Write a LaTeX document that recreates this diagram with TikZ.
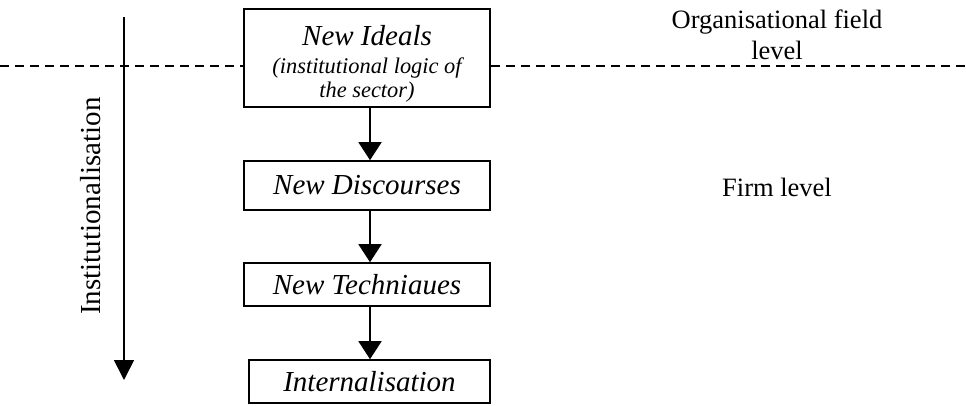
\documentclass[tikz,border=0pt]{standalone}
\usepackage{fontspec}
\setmainfont{Liberation Serif}
\usetikzlibrary{arrows.meta}
\begin{document}
\begin{tikzpicture}[x=1pt,y=-1pt,
  box/.style={draw,line width=1.6pt,inner sep=0pt,align=center,font=\fontsize{29}{33}\selectfont\itshape},
  boxtext/.style={inner sep=0pt,align=center,anchor=base},
  arr/.style={line width=1.6pt,-{Triangle[width=23pt,length=18pt]}},
  dashline/.style={line width=1.6pt,dash pattern=on 9pt off 6pt},
  lbl/.style={align=center,inner sep=0pt,anchor=base,font=\fontsize{26.5}{31}\selectfont}]
\useasboundingbox (0,0) rectangle (966,405);
% boxes
\node[box,minimum width=246pt,minimum height=98pt] (ideals) at (367,58) {};
\node[boxtext,font=\fontsize{29}{33}\selectfont\itshape] (idealsT) at (367,45) {New Ideals};
\node[boxtext,font=\fontsize{22.4}{24}\selectfont\itshape] (idealsS) at (367,97) {(institutional logic of\\the sector)};
\node[box,minimum width=246pt,minimum height=49pt] (disc) at (367,185.5) {New Discourses};
\node[box,minimum width=246pt,minimum height=43pt] (tech) at (367,284.5) {New Techniaues};
\node[box,minimum width=241pt,minimum height=43pt] (intern) at (369.5,381.5) {Internalisation};
% dashed level separator
\coordinate (dl) at (0,66);
\coordinate (dr) at (966,66);
\draw[dashline] (dl) -- (dl -| ideals.west);
\draw[dashline] (dr -| ideals.east) -- (dr);
% flow arrows
\draw[arr] ([xshift=3pt]ideals.south) -- ([xshift=3pt]disc.north);
\draw[arr] ([xshift=3pt]disc.south) -- ([xshift=3pt]tech.north);
\draw[arr] ([xshift=3pt]tech.south) -- ([xshift=0.5pt]intern.north);
% institutionalisation arrow
\coordinate (ia) at (124,17);
\coordinate (ib) at (124,380);
\draw[line width=1.6pt,-{Triangle[width=20pt,length=20pt]}] (ia) -- (ib);
\node[rotate=90,inner sep=0pt,font=\fontsize{29}{33}\selectfont] (inst) at (91,206) {Institutionalisation};
% level labels
\node[lbl] (org) at (777,59) {Organisational field\\level};
\node[lbl] (firm) at (777,196) {Firm level};
\end{tikzpicture}
\end{document}
